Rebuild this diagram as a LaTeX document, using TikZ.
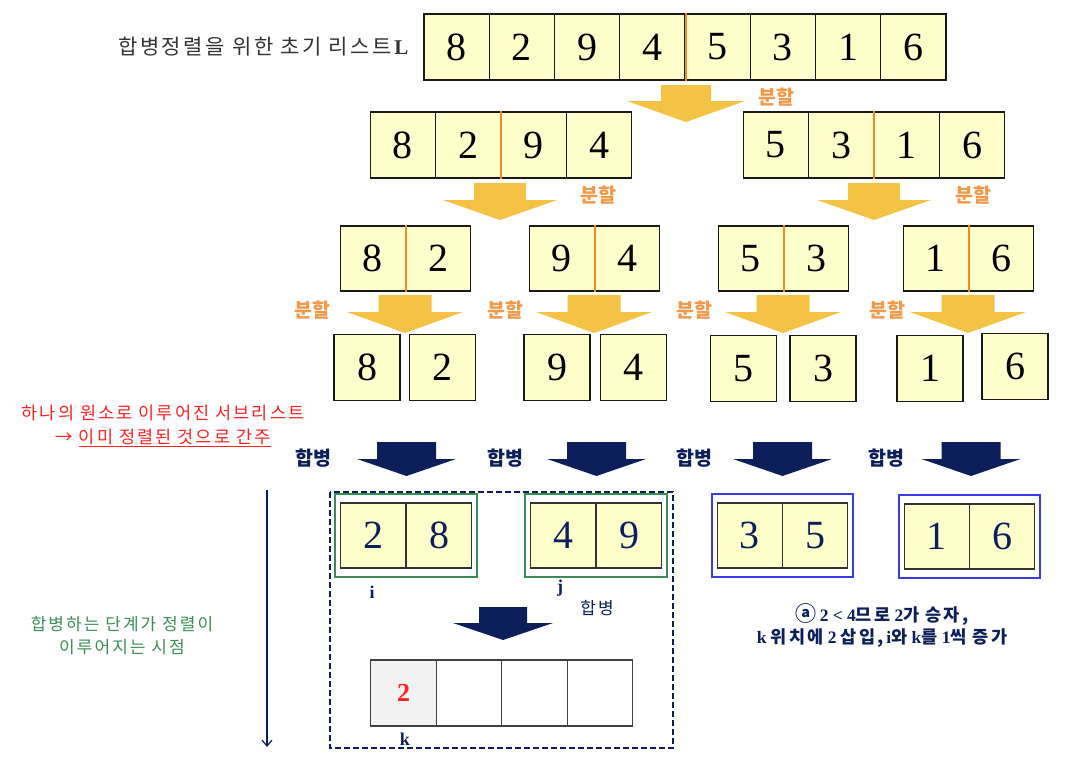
\documentclass[tikz,border=0pt]{standalone}
\usepackage{fontspec}
\setmainfont{Liberation Serif}
\newfontfamily\kr{Noto Sans CJK KR}
\newfontfamily\krw[LetterSpace=12]{Noto Sans CJK KR}
\usetikzlibrary{positioning, fit, arrows.meta}

\definecolor{cellyellow}{HTML}{FFFFCC}
\definecolor{splityellow}{HTML}{F4C245}
\definecolor{splitorange}{HTML}{F2994A}
\definecolor{divorange}{HTML}{F08A24}
\definecolor{navy}{HTML}{0C1F5B}
\definecolor{mergegreen}{HTML}{3C8C5A}
\definecolor{mergeblue}{HTML}{3A3AE6}
\definecolor{notered}{HTML}{FF2020}
\definecolor{kgray}{HTML}{F2F2F2}

% block arrow: centre x, top y, head half width, shaft half width, shaft height, head height, colour
\newcommand{\blockarrow}[7]{%
  \fill[#7] (#1-#4,#2) -- (#1+#4,#2) -- (#1+#4,#2+#5) -- (#1+#3,#2+#5)
    -- (#1,#2+#5+#6) -- (#1-#3,#2+#5) -- (#1-#4,#2+#5) -- cycle;}
\newcommand{\ko}[1]{{\krw #1}}

\begin{document}
\begin{tikzpicture}[x=1pt, y=-1pt,
    cell/.style={draw=black!90, line width=1.2pt, fill=cellyellow, minimum width=65.25pt,
      minimum height=66pt, inner sep=0pt, font=\fontsize{40}{40}\selectfont},
    mcell/.style={cell, draw=black!80, text=navy, minimum height=65pt},
    ecell/.style={draw=black!75, line width=1.2pt, fill=white, minimum width=65.5pt,
      minimum height=66pt, inner sep=0pt},
    divline/.style={divorange, line width=2pt},
    splitlbl/.style={text=splitorange, font=\kr\bfseries\fontsize{19.5}{19.5}\selectfont},
    mergelbl/.style={text=navy, font=\kr\bfseries\fontsize{19.5}{19.5}\selectfont},
    greenframe/.style={draw=mergegreen, line width=2pt, inner xsep=5pt, inner ysep=8pt},
    blueframe/.style={draw=mergeblue, line width=2pt, inner xsep=5pt, inner ysep=8pt},
    idxlbl/.style={text=navy, font=\bfseries\fontsize{18}{18}\selectfont}]
    \useasboundingbox (0,0) rectangle (1074,764);

    % initial list
    \node[text=black!80, anchor=east, font=\fontsize{21}{21}\selectfont] (lbl) at (412,47)
      {\ko{합병정렬을 위한 초기 리스트}\textbf{L}};
    \node[cell] (a1) at (456.6,47) {8};
    \node[cell] (a2) at (521.9,47) {2};
    \node[cell] (a3) at (587.1,47) {9};
    \node[cell] (a4) at (652.4,47) {4};
    \node[cell] (a5) at (717.6,47) {5};
    \node[cell] (a6) at (782.9,47) {3};
    \node[cell] (a7) at (848.1,47) {1};
    \node[cell] (a8) at (913.4,47) {6};
    \draw[divline] (a4.north east) -- (a4.south east);

    \blockarrow{686}{85}{59}{25}{16}{21}{splityellow}
    \node[splitlbl] (sp1) at (776,97) {분할};

    % first split
    \node[cell] (b1) at (402.75,145) {8};
    \node[cell] (b2) at (468.25,145) {2};
    \node[cell] (b3) at (533.75,145) {9};
    \node[cell] (b4) at (599.25,145) {4};
    \node[cell] (b5) at (775.75,145) {5};
    \node[cell] (b6) at (841.25,145) {3};
    \node[cell] (b7) at (906.75,145) {1};
    \node[cell] (b8) at (972.25,145) {6};
    \draw[divline] (b2.north east) -- (b2.south east);
    \draw[divline] (b6.north east) -- (b6.south east);

    \blockarrow{500}{183}{57}{26}{17}{20}{splityellow}
    \blockarrow{874}{183}{57}{26}{17}{20}{splityellow}
    \node[splitlbl] (sp2) at (598,195) {분할};
    \node[splitlbl] (sp3) at (973,195) {분할};

    % second split
    \node[cell, minimum height=65pt] (c1) at (372.75,258.5) {8};
    \node[cell, minimum height=65pt] (c2) at (438.25,258.5) {2};
    \node[cell, minimum height=65pt] (c3) at (561.75,258.5) {9};
    \node[cell, minimum height=65pt] (c4) at (627.25,258.5) {4};
    \node[cell, minimum height=65pt] (c5) at (750.75,258.5) {5};
    \node[cell, minimum height=65pt] (c6) at (816.25,258.5) {3};
    \node[cell, minimum height=65pt] (c7) at (935.75,258.5) {1};
    \node[cell, minimum height=65pt] (c8) at (1001.25,258.5) {6};
    \draw[divline] (c1.north east) -- (c1.south east);
    \draw[divline] (c3.north east) -- (c3.south east);
    \draw[divline] (c5.north east) -- (c5.south east);
    \draw[divline] (c7.north east) -- (c7.south east);

    \blockarrow{405}{295}{58}{26.5}{17}{21}{splityellow}
    \blockarrow{594}{295}{58}{26.5}{17}{21}{splityellow}
    \blockarrow{783}{295}{58}{26.5}{17}{21}{splityellow}
    \blockarrow{968}{295}{58}{26.5}{17}{21}{splityellow}
    \node[splitlbl] (sp4) at (312,310) {분할};
    \node[splitlbl] (sp5) at (505,310) {분할};
    \node[splitlbl] (sp6) at (694,310) {분할};
    \node[splitlbl] (sp7) at (887,310) {분할};

    % single elements
    \node[cell, minimum width=66pt] (d1) at (367,367.5) {8};
    \node[cell, minimum width=66pt] (d2) at (442.5,367.5) {2};
    \node[cell, minimum width=66pt] (d3) at (557,367.5) {9};
    \node[cell, minimum width=66pt] (d4) at (633.5,367.5) {4};
    \node[cell, minimum width=66pt] (d5) at (743.5,368.5) {5};
    \node[cell, minimum width=66pt] (d6) at (823,368.5) {3};
    \node[cell, minimum width=66pt] (d7) at (930,368.5) {1};
    \node[cell, minimum width=66pt] (d8) at (1015,366.5) {6};

    \node[text=notered, align=center, font=\krw\fontsize{17.5}{24}\selectfont] (note1) at (163,426)
      {하나의 원소로 이루어진 서브리스트\\→ \underline{이미 정렬된 것으로 간주}};

    % merge arrows
    \blockarrow{406.5}{442}{49.5}{29.5}{17}{17}{navy}
    \blockarrow{596.5}{442}{49.5}{29.5}{17}{17}{navy}
    \blockarrow{782.5}{442}{49.5}{29.5}{17}{17}{navy}
    \blockarrow{971}{442}{49.5}{29.5}{17}{17}{navy}
    \node[mergelbl] (mg1) at (313,458) {합병};
    \node[mergelbl] (mg2) at (505,458) {합병};
    \node[mergelbl] (mg3) at (694,458) {합병};
    \node[mergelbl] (mg4) at (886,458) {합병};

    % merged pairs
    \node[mcell] (m1) at (373,535.5) {2};
    \node[mcell] (m2) at (439,535.5) {8};
    \node[mcell] (m3) at (563,535.5) {4};
    \node[mcell] (m4) at (629,535.5) {9};
    \node[mcell] (m5) at (749.75,535.5) {3};
    \node[mcell] (m6) at (815.25,535.5) {5};
    \node[mcell] (m7) at (936.75,536.5) {1};
    \node[mcell] (m8) at (1002.25,536.5) {6};
    \node[greenframe, fit=(m1)(m2)] (g1) {};
    \node[greenframe, fit=(m3)(m4)] (g2) {};
    \node[blueframe, fit=(m5)(m6)] (g3) {};
    \node[blueframe, fit=(m7)(m8)] (g4) {};

    \node[idxlbl] (ii) at (372,592) {i};
    \node[idxlbl] (jj) at (560,588) {j};
    \node[text=navy, font=\krw\fontsize{17}{17}\selectfont] (mg5) at (597,608) {합병};
    \blockarrow{503}{607}{50}{24}{16}{17}{navy}

    % result list
    \node[ecell, fill=kgray, text=notered, font=\bfseries\fontsize{26}{26}\selectfont] (e1) at (403.5,693) {2};
    \node[ecell] (e2) at (469,693) {};
    \node[ecell] (e3) at (534.5,693) {};
    \node[ecell] (e4) at (600,693) {};
    \node[idxlbl] (kk) at (405,739) {k};
    \draw[navy, line width=1.5pt, dashed, dash pattern=on 6pt off 3pt] (330,492) rectangle (673,748);

    \node[text=navy, align=center, font=\bfseries\fontsize{17.5}{22}\selectfont] (note2) at (882,625)
      {{\kr\fontsize{21}{21}\selectfont ⓐ}\,2 < 4\ko{므로} 2\ko{가 승자,}\\
       k \ko{위치에} 2 \ko{삽입,}\,i\ko{와} k\ko{를} 1\ko{씩 증가}};

    \node[text=mergegreen, align=center, font=\krw\fontsize{17}{23}\selectfont] (note3) at (122,636)
      {합병하는 단계가 정렬이\\이루어지는 시점};

    \coordinate (ts) at (267,490);
    \coordinate (te) at (267,747);
    \draw[-{Straight Barb[length=6pt, width=10pt]}, navy, line width=1.2pt] (ts) -- (te);
\end{tikzpicture}
\end{document}
